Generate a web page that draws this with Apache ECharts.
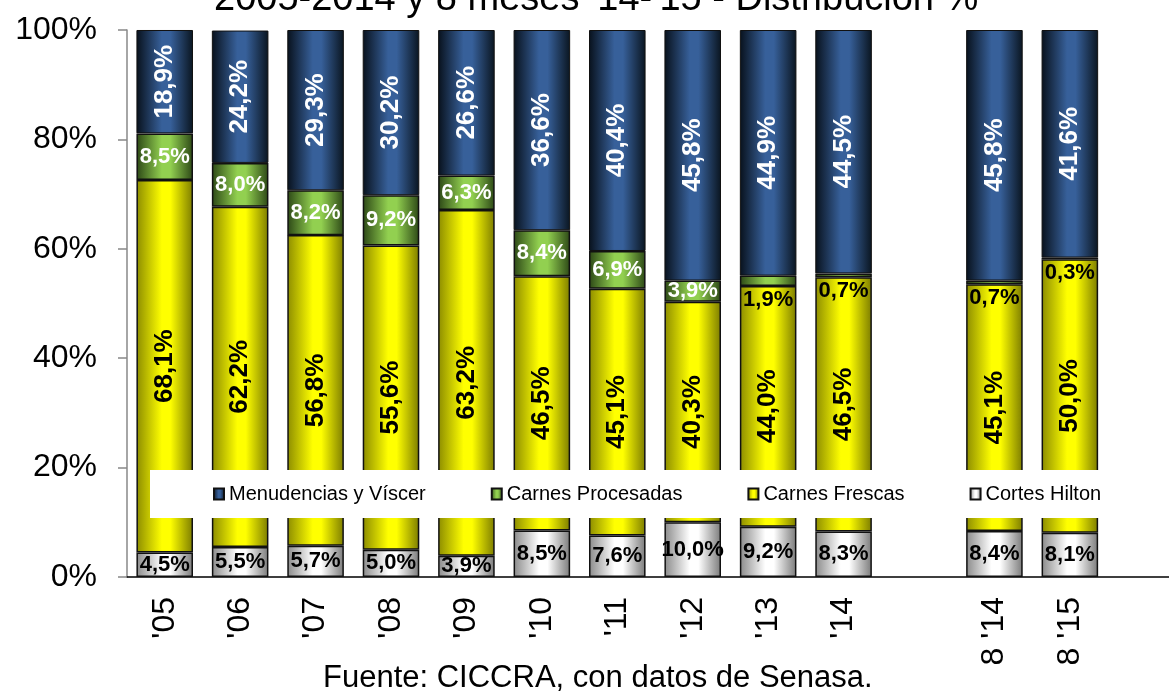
<!DOCTYPE html>
<html>
<head>
<meta charset="utf-8">
<script src="https://cdn.jsdelivr.net/npm/echarts@6/dist/echarts.min.js"></script>
<style>
  html, body { margin: 0; padding: 0; background: #fff; }
  #chart { width: 1169px; height: 691px; }
</style>
</head>
<body>
<div id="chart"></div>
<script>
// periods on the x axis, '' = empty slot
const categories = ["'05", "'06", "'07", "'08", "'09", "'10", "'11", "'12", "'13", "'14", '', "8 '14", "8 '15", ''];

// shares in %, bottom to top of each bar
const cortesHilton = [4.5, 5.5, 5.7, 5.0, 3.9, 8.5, 7.6, 10.0, 9.2, 8.3, null, 8.4, 8.1, null];
const carnesFrescas = [68.1, 62.2, 56.8, 55.6, 63.2, 46.5, 45.1, 40.3, 44.0, 46.5, null, 45.1, 50.0, null];
const carnesProcesadas = [8.5, 8.0, 8.2, 9.2, 6.3, 8.4, 6.9, 3.9, 1.9, 0.7, null, 0.7, 0.3, null];
const menudencias = [18.9, 24.2, 29.3, 30.2, 26.6, 36.6, 40.4, 45.8, 44.9, 44.5, null, 45.8, 41.6, null];

const yTicks = [0, 20, 40, 60, 80, 100];

const FONT = 'Liberation Sans, Arial, sans-serif';

function grad(edge, mid, edge2) {
  return new echarts.graphic.LinearGradient(0, 0, 1, 0, [
    { offset: 0, color: edge },
    { offset: 0.45, color: mid },
    { offset: 0.6, color: mid },
    { offset: 1, color: edge2 || edge },
  ]);
}

function pct(p) {
  if (p.value == null) return '';
  return p.value.toFixed(1).replace('.', ',') + '%';
}

const chart = echarts.init(document.getElementById('chart'));

const barBase = {
  type: 'bar',
  stack: 'total',
  barWidth: '75%',
  animation: false,
};

// tiny shares get a black label under the segment
const procesadasData = carnesProcesadas.map(v => {
  if (v != null && v < 2) {
    return {
      value: v,
      label: { position: 'bottom', distance: 3, color: '#000' },
    };
  }
  return v;
});

const option = {
  backgroundColor: '#fff',
  title: [
    {
      text: "2005-2014 y 8 meses '14-'15 - Distribución %",
      left: 209,
      top: -24,
      textStyle: { fontFamily: FONT, fontSize: 38, fontWeight: 'normal', color: '#000' },
    },
    {
      text: 'Fuente: CICCRA, con datos de Senasa.',
      left: 318,
      top: 658,
      textStyle: { fontFamily: FONT, fontSize: 31, fontWeight: 'normal', color: '#000' },
    },
  ],
  legend: {
    data: ['Menudencias y Víscer', 'Carnes Procesadas', 'Carnes Frescas', 'Cortes Hilton'],
    left: 150,
    top: 470,
    padding: [14, 63, 14, 63],
    backgroundColor: '#fff',
    itemGap: 65,
    itemWidth: 10,
    itemHeight: 11,
    icon: 'rect',
    textStyle: { fontFamily: FONT, fontSize: 20, color: '#000' },
    selectedMode: false,
  },
  grid: {
    left: 127,
    top: 30,
    bottom: 114,
    right: -14,
    containLabel: false,
    outerBoundsMode: 'none',
  },
  xAxis: {
    type: 'category',
    data: categories,
    axisLine: { lineStyle: { color: '#000', width: 1.5 } },
    axisTick: { length: 9, lineStyle: { color: '#000', width: 1.5 } },
    axisLabel: {
      rotate: 90,
      margin: 20,
      interval: 0,
      fontFamily: FONT,
      fontSize: 32,
      color: '#000',
    },
  },
  yAxis: {
    type: 'value',
    min: yTicks[0],
    max: yTicks[yTicks.length - 1],
    interval: 20,
    axisLine: { show: true, lineStyle: { color: '#888', width: 1.5 } },
    axisTick: { show: true, length: 9, lineStyle: { color: '#888', width: 1.5 } },
    splitLine: { show: false },
    axisLabel: {
      margin: 30,
      fontFamily: FONT,
      fontSize: 32,
      color: '#000',
      formatter: '{value}%',
    },
  },
  series: [
    {
      ...barBase,
      name: 'Cortes Hilton',
      data: cortesHilton,
      itemStyle: { color: grad('#8a8a8a', '#ffffff', '#7a7a7a'), borderColor: '#111', borderWidth: 1.5 },
      label: {
        show: true, position: 'inside', formatter: pct,
        fontFamily: FONT, fontSize: 22, fontWeight: 'bold', color: '#000',
      },
    },
    {
      ...barBase,
      name: 'Carnes Frescas',
      data: carnesFrescas,
      itemStyle: { color: grad('#8c8c00', '#ffff00', '#7c7c00'), borderColor: '#111', borderWidth: 1.5 },
      label: {
        show: true, position: 'inside', rotate: 90, formatter: pct,
        fontFamily: FONT, fontSize: 26, fontWeight: 'bold', color: '#000',
      },
    },
    {
      ...barBase,
      name: 'Carnes Procesadas',
      data: procesadasData,
      itemStyle: { color: grad('#2c4716', '#92d050', '#2c4716'), borderColor: '#111', borderWidth: 1.5 },
      label: {
        show: true, position: 'inside', formatter: pct,
        fontFamily: FONT, fontSize: 22, fontWeight: 'bold', color: '#fff',
      },
    },
    {
      ...barBase,
      name: 'Menudencias y Víscer',
      data: menudencias,
      itemStyle: { color: grad('#08111c', '#37609a', '#0a1520'), borderColor: '#111', borderWidth: 1 },
      label: {
        show: true, position: 'inside', rotate: 90, formatter: pct,
        fontFamily: FONT, fontSize: 26, fontWeight: 'bold', color: '#fff',
      },
    },
  ],
};

chart.setOption(option);
</script>
</body>
</html>
